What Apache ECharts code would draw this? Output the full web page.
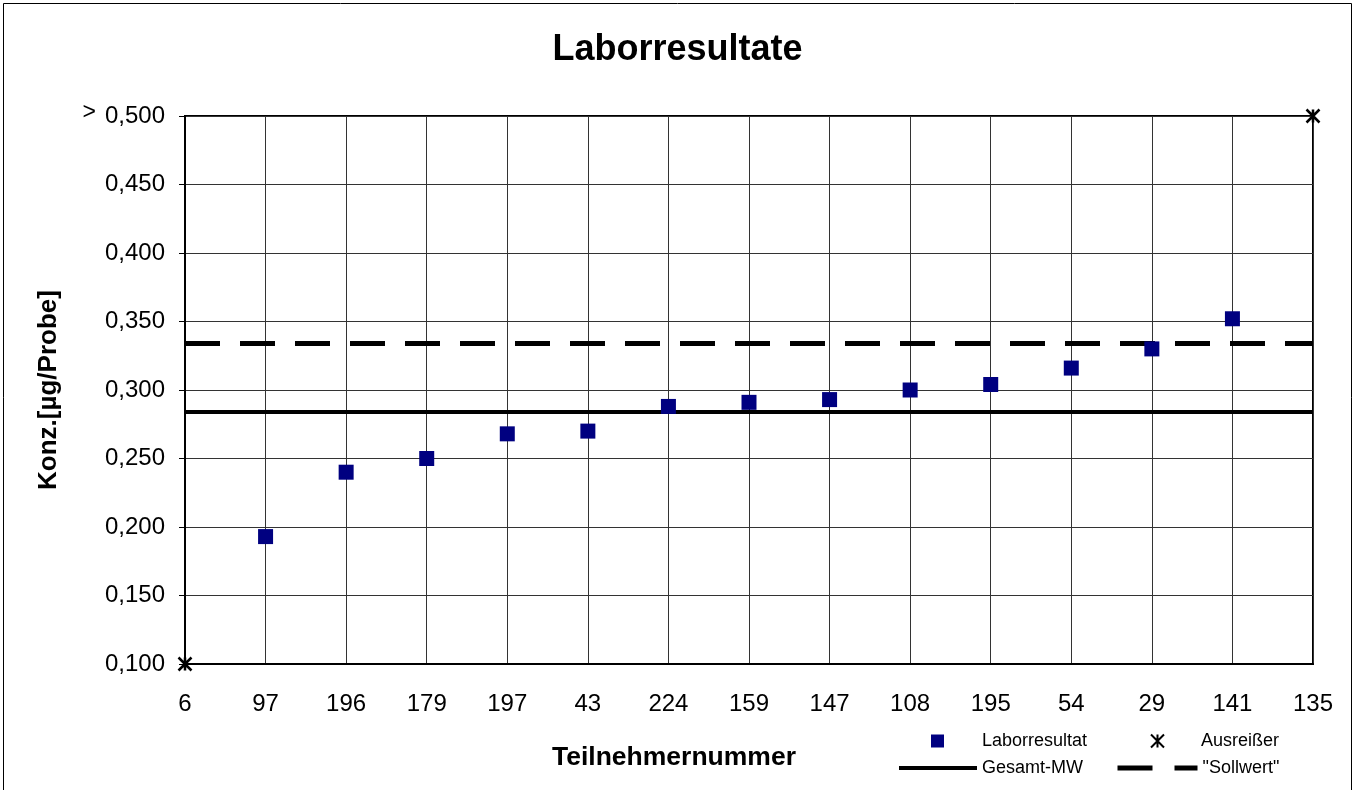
<!DOCTYPE html>
<html>
<head>
<meta charset="utf-8">
<script src="https://cdn.jsdelivr.net/npm/echarts@6/dist/echarts.min.js"></script>
<style>
html,body{margin:0;padding:0;background:#fff;}
#chart{width:1355px;height:790px;}
</style>
</head>
<body>
<div id="chart"></div>
<script>
const categories = ['6','97','196','179','197','43','224','159','147','108','195','54','29','141','135'];
const labValues = [null,0.193,0.240,0.250,0.268,0.270,0.288,0.291,0.293,0.300,0.304,0.316,0.330,0.352,null];
const outlierValues = [0.100,null,null,null,null,null,null,null,null,null,null,null,null,null,0.500];
const gesamtMW = 0.284;
const sollwert = 0.334;
const yMin = 0.1, yMax = 0.5, yStep = 0.05;

const FONT = '"Liberation Sans", Arial, sans-serif';
const starPath = 'path://M0,0L12,12M12,0L0,12M6,0L6,12';
const legendText = {fontFamily:FONT, fontSize:18, color:'#000'};

const chart = echarts.init(document.getElementById('chart'), null, {renderer:'canvas'});
chart.setOption({
  backgroundColor:'#fff',
  animation:false,
  textStyle:{fontFamily:FONT},
  title:{
    text:'Laborresultate', left:'center', top:27,
    textStyle:{fontFamily:FONT, fontSize:36, fontWeight:'bold', color:'#000'}
  },
  graphic:[
    {type:'rect', shape:{x:3.5,y:3.5,width:1348,height:800}, style:{fill:'none', stroke:'#000', lineWidth:1}, silent:true},
    {type:'text', left:552, top:744, style:{text:'Teilnehmernummer', font:'bold 26.5px "Liberation Sans", Arial, sans-serif', fill:'#000'}}
  ],
  grid:{left:185, right:42, top:116, bottom:126, show:true, borderColor:'#000', borderWidth:2, backgroundColor:'transparent'},
  legend:[
    {data:['Laborresultat'], left:931, top:732, padding:0, itemWidth:13, itemHeight:13, itemGap:0,
     textStyle:Object.assign({padding:[0,0,0,33]}, legendText)},
    {data:['Ausreißer'], left:1150, top:732, padding:0, itemWidth:13, itemHeight:13, itemGap:0,
     textStyle:Object.assign({padding:[0,0,0,32]}, legendText)},
    {data:['Gesamt-MW'], left:897, top:759, padding:0, itemWidth:78, itemHeight:14, itemGap:0,
     itemStyle:{opacity:0}, lineStyle:{width:4, color:'#000'}, textStyle:legendText},
    {data:['"Sollwert"'], left:1115, top:759, padding:0, itemWidth:80, itemHeight:14, itemGap:0,
     itemStyle:{opacity:0}, lineStyle:{width:5, color:'#000', type:[35,22]}, textStyle:legendText}
  ],
  xAxis:{
    type:'category', data:categories, boundaryGap:false,
    axisLine:{show:true, lineStyle:{color:'#000', width:2}},
    axisTick:{show:false},
    axisLabel:{color:'#000', fontSize:24, fontFamily:FONT, margin:28, interval:0},
    splitLine:{show:true, lineStyle:{color:'#333', width:1}}
  },
  yAxis:{
    type:'value', min:yMin, max:yMax, interval:yStep,
    name:'Konz.[µg/Probe]', nameLocation:'middle', nameGap:123,
    nameTextStyle:{fontFamily:FONT, fontSize:26, fontWeight:'bold', color:'#000'},
    axisLine:{show:true, lineStyle:{color:'#000', width:2}},
    axisTick:{show:true, length:6, lineStyle:{color:'#000', width:1}},
    axisLabel:{
      color:'#000', fontSize:24, fontFamily:FONT, margin:20,
      formatter:function(v){
        const s = v.toFixed(3).replace('.', ',');
        return Math.abs(v - yMax) < 1e-9 ? '{g|>}' + s : s;
      },
      rich:{g:{fontSize:23, fontFamily:FONT, color:'#000', padding:[0,9,6,0]}}
    },
    splitLine:{show:true, lineStyle:{color:'#333', width:1}}
  },
  series:[
    {
      name:'Laborresultat', type:'scatter', data:labValues, symbol:'rect', symbolSize:15,
      itemStyle:{color:'#000080', opacity:1}, z:5
    },
    {
      name:'Ausreißer', type:'scatter', data:outlierValues, symbol:starPath, symbolSize:13,
      clip:false, itemStyle:{color:'transparent', borderColor:'#000', borderWidth:2.5, opacity:1}, z:6
    },
    {
      name:'Gesamt-MW', type:'line', data:[[categories[0], gesamtMW],[categories[categories.length-1], gesamtMW]],
      symbol:'none', lineStyle:{color:'#000', width:4}, itemStyle:{color:'#000'}, z:3
    },
    {
      name:'"Sollwert"', type:'line', data:[[categories[0], sollwert],[categories[categories.length-1], sollwert]],
      symbol:'none', lineStyle:{color:'#000', width:5, type:[35,20]}, itemStyle:{color:'#000'}, z:3
    }
  ]
});
</script>
</body>
</html>
